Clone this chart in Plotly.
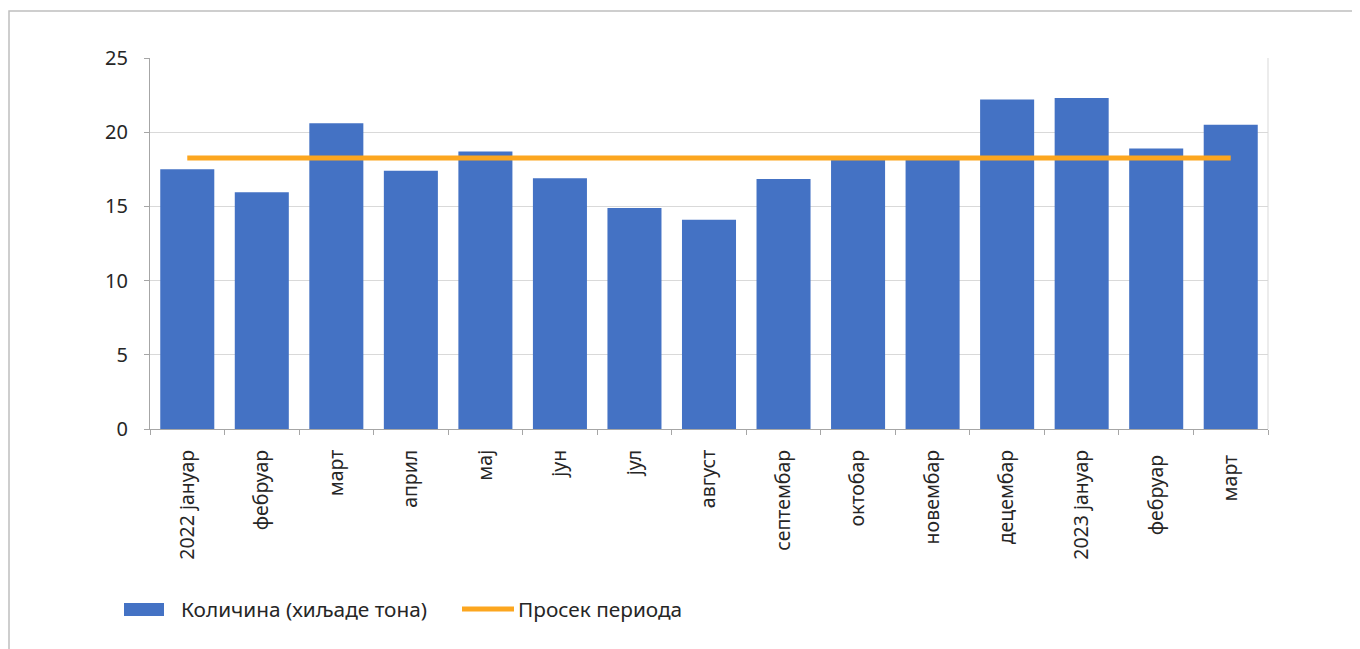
import plotly.graph_objects as go

categories = ["2022 јануар", "фебруар", "март", "април", "мај", "јун", "јул", "август",
              "септембар", "октобар", "новембар", "децембар", "2023 јануар", "фебруар ", "март "]
quantity = [17.5, 15.95, 20.6, 17.4, 18.7, 16.9, 14.9, 14.1, 16.85, 18.2, 18.15, 22.2, 22.3, 18.9, 20.5]
average = [18.26] * len(categories)
series_names = ["Количина (хиљаде тона)", "Просек периода"]
colors = ["#4472c4", "#fca61f"]

# page has 8px body margin; figure starts at (8, 8)
OFF = 8
W, H = 1360 - OFF, 649 - OFF
L, R, T, B = 142, 92, 50, 220
pw, ph = W - L - R, H - T - B

fig = go.Figure()
fig.add_trace(go.Bar(x=categories, y=quantity, name=series_names[0],
                     marker=dict(color=colors[0], line=dict(width=0))))
fig.add_trace(go.Scatter(x=categories, y=average, name=series_names[1], mode="lines",
                         line=dict(color=colors[1], width=5)))

def px_x(p):  # page pixel -> paper x
    return (p - OFF - L) / pw

def px_y(p):  # page pixel -> paper y
    return (T + ph - (p - OFF)) / ph

# outer chart border
fig.add_shape(type="rect", xref="paper", yref="paper",
              x0=px_x(9), x1=px_x(1400), y0=px_y(700), y1=px_y(11),
              line=dict(color="#bfbfbf", width=1.5), fillcolor="rgba(0,0,0,0)", layer="below")
# right edge of plot area
fig.add_shape(type="line", xref="paper", yref="paper", x0=1, x1=1, y0=0, y1=1,
              line=dict(color="#d9d9d9", width=1), layer="below")

# custom legend
fig.add_shape(type="rect", xref="paper", yref="paper",
              x0=px_x(124), x1=px_x(164), y0=px_y(616), y1=px_y(603),
              line=dict(width=0), fillcolor=colors[0])
fig.add_shape(type="line", xref="paper", yref="paper",
              x0=px_x(462), x1=px_x(514), y0=px_y(609), y1=px_y(609),
              line=dict(color=colors[1], width=5))
fig.add_annotation(xref="paper", yref="paper", x=px_x(179), y=px_y(609), text=series_names[0],
                   showarrow=False, xanchor="left", yanchor="middle",
                   font=dict(size=20.8, color="#262626"))
fig.add_annotation(xref="paper", yref="paper", x=px_x(516), y=px_y(609), text=series_names[1],
                   showarrow=False, xanchor="left", yanchor="middle",
                   font=dict(size=20.8, color="#262626"))

font_family = "Noto Sans, Open Sans, sans-serif"
fig.update_layout(
    width=W, height=H,
    margin=dict(l=L, r=R, t=T, b=B),
    paper_bgcolor="white", plot_bgcolor="white",
    bargap=0.275,
    font=dict(family=font_family, size=16, color="#262626"),
    showlegend=False,
    xaxis=dict(type="category", tickangle=-90, showline=True, linecolor="#a6a6a6", linewidth=1,
               ticks="outside", ticklen=5, tickcolor="#a6a6a6", tickson="boundaries",
               showgrid=False, tickfont=dict(size=19.5, color="#262626"), ticklabelstandoff=12),
    yaxis=dict(range=[0, 25], dtick=5, showline=True, linecolor="#a6a6a6", linewidth=1,
               ticks="outside", ticklen=5, tickcolor="#a6a6a6",
               gridcolor="#d9d9d9", gridwidth=1, zeroline=False,
               tickfont=dict(size=20, color="#262626"), ticklabelstandoff=12),
)

fig.write_html("out.html")
